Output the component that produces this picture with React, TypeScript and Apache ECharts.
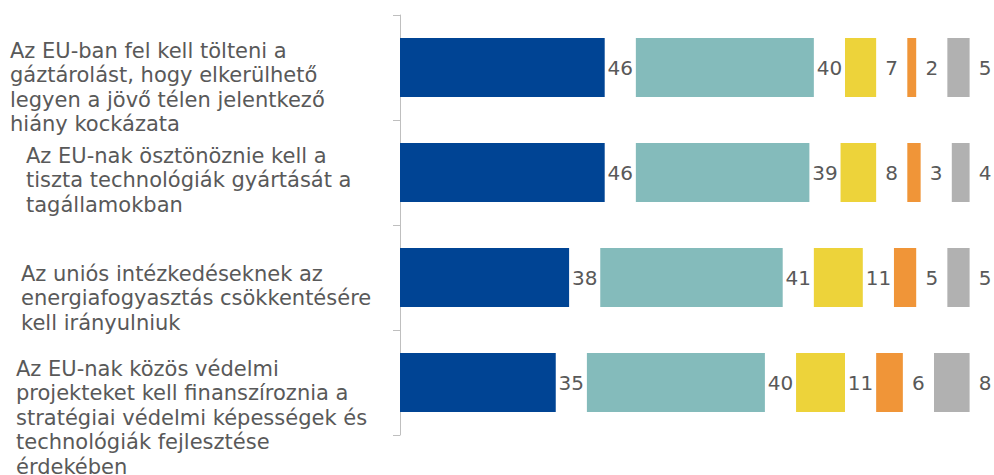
import React, { useEffect, useRef } from "react";
import * as echarts from "echarts";

const categories = [
  "Az EU-ban fel kell tölteni a\ngáztárolást, hogy elkerülhető\nlegyen a jövő télen jelentkező\nhiány kockázata",
  "Az EU-nak ösztönöznie kell a\ntiszta technológiák gyártását a\ntagállamokban",
  "Az uniós intézkedéseknek az\nenergiafogyasztás csökkentésére\nkell irányulniuk",
  "Az EU-nak közös védelmi\nprojekteket kell finanszíroznia a\nstratégiai védelmi képességek és\ntechnológiák fejlesztése\nérdekében",
];

const totallyAgree = [46, 46, 38, 35];
const tendAgree = [40, 39, 41, 40];
const tendDisagree = [7, 8, 11, 11];
const totallyDisagree = [2, 3, 5, 6];
const dontKnow = [5, 4, 5, 8];

const seriesValues = [totallyAgree, tendAgree, tendDisagree, totallyDisagree, dontKnow];
const seriesNames = ["Teljesen egyetért", "Inkább egyetért", "Inkább nem ért egyet", "Egyáltalán nem ért egyet", "Nem tudja"];
const seriesColors = ["#004494", "#84BBBB", "#EDD33A", "#F09538", "#B1B1B1"];
const labelGap = 7;

const labelPos = [
  { x: 10, y: 38.5 },
  { x: 26, y: 143.5 },
  { x: 21, y: 261.5 },
  { x: 16, y: 356.5 },
];

export default function App() {
  const ref = useRef<HTMLDivElement>(null);
  useEffect(() => {
    if (!ref.current) return;
    const chart = echarts.init(ref.current, undefined, { renderer: "svg" });
    const series: any[] = [];
    seriesValues.forEach((vals, i) => {
      series.push({
        name: seriesNames[i],
        type: "bar",
        stack: "s",
        barWidth: 59,
        silent: true,
        data: vals,
        itemStyle: { color: seriesColors[i] },
      });
      series.push({
        name: seriesNames[i] + " címke",
        type: "bar",
        stack: "s",
        barWidth: 59,
        silent: true,
        data: vals.map(() => labelGap),
        itemStyle: { color: "rgba(0,0,0,0)" },
        label: {
          show: true,
          position: "inside",
          formatter: (p: any) => String(vals[p.dataIndex]),
          color: "#595959",
          fontSize: 20,
          fontFamily: "DejaVu Sans",
        },
      });
    });
    chart.setOption({
      animation: false,
      grid: { left: 400, top: 15, height: 420, width: 135 * 4.45, outerBoundsMode: "none", containLabel: false },
      xAxis: { type: "value", min: 0, max: 135, show: false },
      yAxis: {
        type: "category",
        inverse: true,
        data: categories,
        axisLine: { show: true, lineStyle: { color: "#BFBFBF", width: 1 } },
        axisTick: { show: true, length: 7, lineStyle: { color: "#BFBFBF" } },
        axisLabel: { show: false },
      },
      graphic: categories.map((c, i) => ({
        type: "text",
        x: labelPos[i].x,
        y: labelPos[i].y,
        silent: true,
        style: {
          text: c,
          fill: "#595959",
          fontSize: 21,
          fontFamily: "DejaVu Sans",
          lineHeight: 24.5,
          align: "left",
          verticalAlign: "top",
        },
      })),
      series,
    });
    return () => chart.dispose();
  }, []);
  return (
    <div
      ref={ref}
      style={{ position: "absolute", left: 0, top: 0, width: 994, height: 475, background: "#fff" }}
    />
  );
}
